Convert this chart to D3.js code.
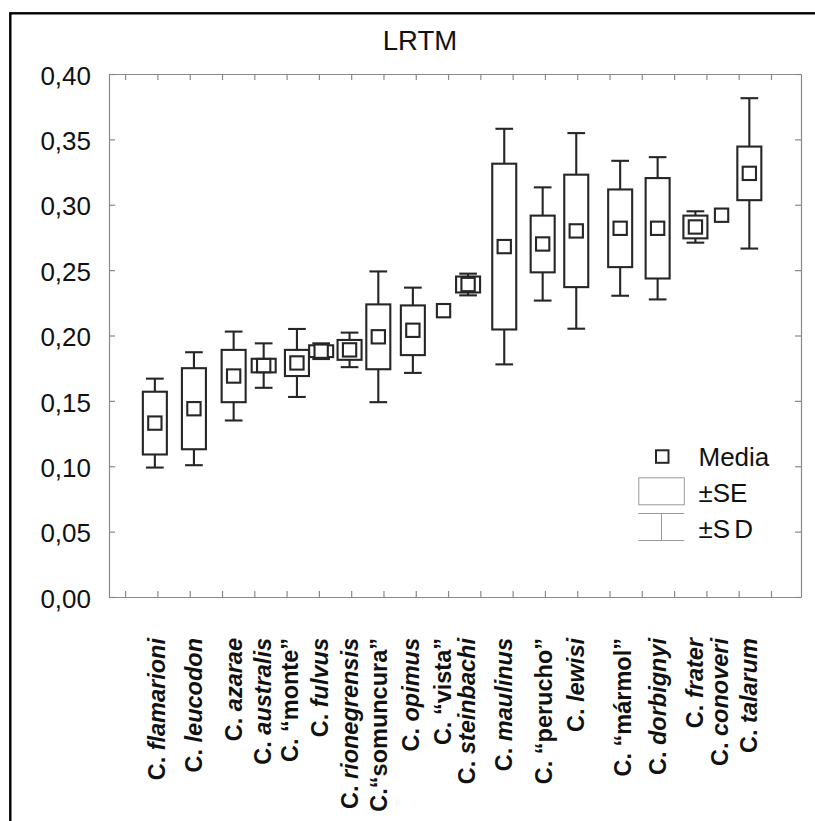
<!DOCTYPE html>
<html>
<head>
<meta charset="utf-8">
<script src="https://cdn.jsdelivr.net/npm/d3@7"></script>
<style>
  html, body { margin: 0; padding: 0; background: #fff; }
  svg { display: block; font-family: "Liberation Sans", Arial, sans-serif; }
</style>
</head>
<body>
<svg id="chart" width="815" height="821"></svg>
<script>
// ---- data ----
const title = "LRTM";
const categories = [
  "C. flamarioni", "C. leucodon", "C. azarae", "C. australis", "C. “monte”",
  "C. fulvus", "C. rionegrensis", "C.“somuncura”", "C. opimus", "C. “vista”",
  "C. steinbachi", "C. maulinus", "C. “perucho”", "C. lewisi", "C. “mármol”",
  "C. dorbignyi", "C. frater", "C. conoveri", "C. talarum"
];
const means = [0.133, 0.144, 0.169, 0.177, 0.179, 0.188, 0.189, 0.199, 0.204, 0.219,
               0.239, 0.268, 0.270, 0.280, 0.282, 0.282, 0.283, 0.292, 0.324];
const se    = [0.024, 0.031, 0.020, 0.0052, 0.010, 0.0045, 0.0076, 0.0248, 0.019, 0,
               0.0061, 0.0634, 0.0217, 0.043, 0.0297, 0.0384, 0.0087, 0, 0.0205];
const sd    = [0.034, 0.0432, 0.034, 0.017, 0.026, 0.006, 0.0132, 0.050, 0.0326, 0,
               0.0083, 0.0901, 0.0433, 0.0748, 0.0516, 0.0544, 0.012, 0, 0.0575];
const yTicks = [0, 0.05, 0.10, 0.15, 0.20, 0.25, 0.30, 0.35, 0.40];
const legendLabels = ["Media", "±SE", "±SD"];

// ---- layout (category positions on the tick grid, as drawn in the original) ----
const boxPos   = [0.92, 2.13, 3.36, 4.29, 5.32, 6.07, 6.95, 7.84, 8.91, 9.86,
                  10.62, 11.74, 12.93, 13.97, 15.33, 16.49, 17.66, 18.47, 19.33];
const labelPos = [0.98, 2.12, 3.36, 4.27, 5.10, 6.03, 6.96, 7.86, 8.85, 9.84,
                  10.58, 11.72, 12.97, 13.96, 15.40, 16.50, 17.62, 18.42, 19.31];
const gridTicks = d3.range(0, 21);

const svg = d3.select("#chart");
const ink = "#262626";
const axisGray = "#8a8a8a";

const pLeft = 109, pRight = 801, pTop = 74, pBottom = 597;
const x = d3.scaleLinear().domain([-0.5, 20.93]).range([pLeft, pRight]);
const y = d3.scaleLinear().domain([0, 0.4]).range([pBottom, pTop]);

const locale = d3.formatLocale({decimal: ",", thousands: ".", grouping: [3], currency: ["", ""]});
const fmt = locale.format(".2f");

// outer frame (extends beyond right/bottom edge)
svg.append("rect")
  .attr("x", 10.3).attr("y", 13.3).attr("width", 900).attr("height", 900)
  .attr("fill", "none").attr("stroke", "#000").attr("stroke-width", 2.4);

// title
svg.append("text")
  .attr("x", 420).attr("y", 50)
  .attr("text-anchor", "middle")
  .attr("font-size", 27.5)
  .attr("fill", "#111")
  .text(title);

// axes
function styleAxis(g) {
  g.selectAll("path.domain").attr("stroke", axisGray).attr("stroke-width", 1.2);
  g.selectAll(".tick line").attr("stroke", axisGray).attr("stroke-width", 1.2);
}
const gLeft = svg.append("g").attr("transform", `translate(${pLeft},0)`)
  .call(d3.axisLeft(y).tickValues(yTicks).tickFormat(fmt).tickSizeInner(-6).tickSizeOuter(0).tickPadding(18))
  .call(styleAxis);
gLeft.selectAll(".tick text")
  .attr("font-size", 26).attr("font-family", "Liberation Sans, Arial, sans-serif")
  .attr("fill", "#111").attr("dy", "0.39em");

svg.append("g").attr("transform", `translate(${pRight},0)`)
  .call(d3.axisRight(y).tickValues(yTicks).tickFormat("").tickSizeInner(-6).tickSizeOuter(0))
  .call(styleAxis);
svg.append("g").attr("transform", `translate(0,${pBottom})`)
  .call(d3.axisBottom(x).tickValues(gridTicks).tickFormat("").tickSizeInner(-6).tickSizeOuter(0))
  .call(styleAxis);
svg.append("g").attr("transform", `translate(0,${pTop})`)
  .call(d3.axisTop(x).tickValues(gridTicks).tickFormat("").tickSizeInner(-6).tickSizeOuter(0))
  .call(styleAxis);

// boxes
const boxW = 24, capW = 17.7, sq = 13.3, sw = 2.1;
const marks = svg.append("g").attr("fill", "none").attr("stroke", ink).attr("stroke-width", sw);

categories.forEach((c, i) => {
  const cx = x(boxPos[i]);
  const m = means[i];
  if (sd[i] > 0) {
    marks.append("line").attr("x1", cx).attr("x2", cx).attr("y1", y(m + se[i])).attr("y2", y(m + sd[i]));
    marks.append("line").attr("x1", cx).attr("x2", cx).attr("y1", y(m - se[i])).attr("y2", y(m - sd[i]));
    marks.append("line").attr("x1", cx - capW / 2).attr("x2", cx + capW / 2).attr("y1", y(m + sd[i])).attr("y2", y(m + sd[i]));
    marks.append("line").attr("x1", cx - capW / 2).attr("x2", cx + capW / 2).attr("y1", y(m - sd[i])).attr("y2", y(m - sd[i]));
  }
  if (se[i] > 0) {
    marks.append("rect")
      .attr("x", cx - boxW / 2).attr("width", boxW)
      .attr("y", y(m + se[i])).attr("height", y(m - se[i]) - y(m + se[i]))
      .attr("fill", "#fff");
  }
  marks.append("rect")
    .attr("x", cx - sq / 2).attr("y", y(m) - sq / 2)
    .attr("width", sq).attr("height", sq).attr("fill", "#fff");
});

// category labels (rotated)
const lab = svg.append("g")
  .attr("font-size", 23.5).attr("font-weight", "bold").attr("fill", "#111");
categories.forEach((c, i) => {
  const mt = c.match(/^(C\.\s?)(.*)$/);
  const quoted = /[“”]/.test(mt[2]);
  const t = lab.append("text")
    .attr("transform", `translate(${x(labelPos[i])},638) rotate(-90)`)
    .attr("text-anchor", "end")
    .attr("dy", "0.36em");
  t.append("tspan").text(mt[1]);
  t.append("tspan").attr("font-style", quoted ? "normal" : "italic").text(mt[2]);
});

// legend
const lg = svg.append("g");
lg.append("rect").attr("x", 656).attr("y", 450.3).attr("width", 12.5).attr("height", 12.5)
  .attr("fill", "none").attr("stroke", ink).attr("stroke-width", 2);
lg.append("rect").attr("x", 638.8).attr("y", 477.8).attr("width", 45.5).attr("height", 27)
  .attr("fill", "none").attr("stroke", "#999").attr("stroke-width", 1);
lg.append("line").attr("x1", 638.3).attr("x2", 684.3).attr("y1", 513.5).attr("y2", 513.5)
  .attr("stroke", "#999").attr("stroke-width", 1);
lg.append("line").attr("x1", 638.3).attr("x2", 684.3).attr("y1", 540.5).attr("y2", 540.5)
  .attr("stroke", "#999").attr("stroke-width", 1);
lg.append("line").attr("x1", 661.5).attr("x2", 661.5).attr("y1", 513.5).attr("y2", 540.5)
  .attr("stroke", "#999").attr("stroke-width", 1);
const legY = [466, 501.7, 538.3];
legendLabels.forEach((t, i) => {
  const tx = lg.append("text").attr("x", 698.5).attr("y", legY[i])
    .attr("font-size", 26).attr("fill", "#111");
  if (t === "±SD") {
    tx.append("tspan").text("±S");
    tx.append("tspan").attr("dx", 4).text("D");
  } else {
    tx.text(t);
  }
});
</script>
</body>
</html>
